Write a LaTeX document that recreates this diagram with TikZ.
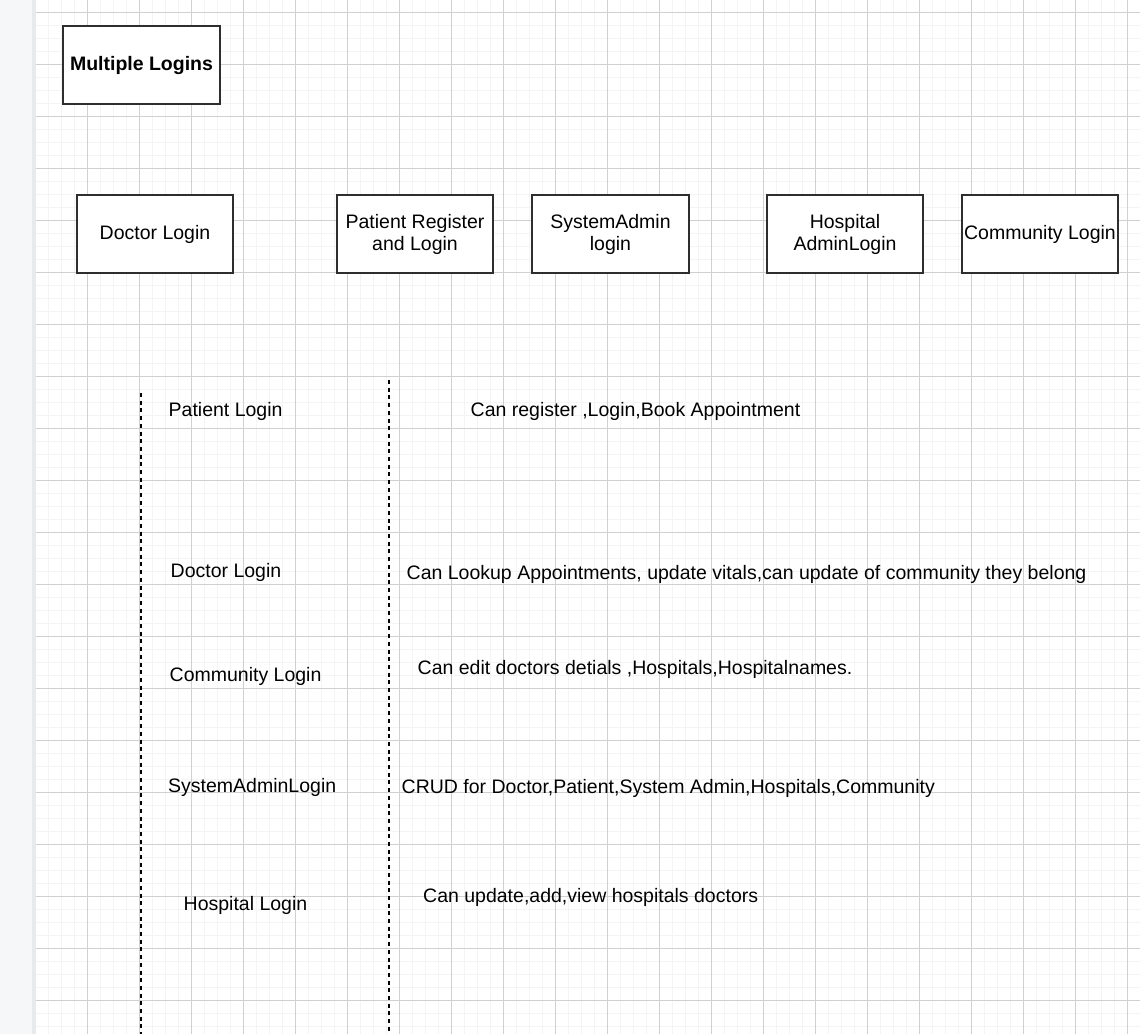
\documentclass[tikz,border=0pt]{standalone}
\usepackage{fontspec}
\setmainfont{Liberation Sans}
\usetikzlibrary{positioning}
\definecolor{gridminor}{HTML}{F4F4F4}
\definecolor{gridmajor}{HTML}{D0D0D0}
\definecolor{strip}{HTML}{F6F7F9}
\definecolor{stripedge}{HTML}{E9EAEC}
\definecolor{boxline}{HTML}{2E2E2E}

\begin{document}
\begin{tikzpicture}[x=1pt, y=-1pt,
    box/.style={draw=boxline, line width=1.4pt, fill=white, minimum width=156pt,
        minimum height=78pt, align=center, inner sep=0pt,
        font=\fontsize{19.5}{22}\selectfont},
    rolelabel/.style={anchor=base west, inner sep=0pt, font=\fontsize{19.5}{22}\selectfont},
    divider/.style={line width=2pt, dash pattern=on 4pt off 3.7pt}]
    \useasboundingbox (0,0) rectangle (1140,1034);

    % page and grid
    \fill[white] (0,0) rectangle (1140,1034);
    \fill[strip] (0,0) rectangle (33,1034);
    \fill[stripedge] (32,0) rectangle (35.5,1034);
    \foreach \k in {1,...,85}
        \draw[gridminor, line width=1.5pt] ({35.3+13*\k},0) -- ({35.3+13*\k},1034);
    \foreach \k in {0,...,79}
        \draw[gridminor, line width=1.5pt] (36,{-0.3+13*\k}) -- (1140,{-0.3+13*\k});
    \foreach \k in {1,...,21}
        \draw[gridmajor, line width=1pt] ({35.3+52*\k},0) -- ({35.3+52*\k},1034);
    \foreach \k in {0,...,19}
        \draw[gridmajor, line width=1pt] (36,{12.7+52*\k}) -- (1140,{12.7+52*\k});

    \node[box, minimum width=157pt, font=\fontsize{19.5}{22}\selectfont\bfseries] (title) at (141.5,65) {Multiple Logins};

    \node[box] (doctor) at (155,234) {Doctor Login};
    \node[box] (patient) at (415,234) {Patient Register\\and Login};
    \node[box, minimum width=157pt] (sysadmin) at (610.5,234) {SystemAdmin\\login};
    \node[box] (hospital) at (845,234) {Hospital\\AdminLogin};
    \node[box] (community) at (1040,234) {Community Login};

    % roles and what they can do
    \coordinate (ltop) at (141.4,393);
    \coordinate (lbot) at (141.4,1034);
    \coordinate (rtop) at (388.6,380);
    \coordinate (rbot) at (388.6,1034);
    \draw[divider] (ltop) -- (lbot);
    \draw[divider] (rtop) -- (rbot);

    \node[rolelabel] (plogin) at (168.5,416) {Patient Login};
    \node[rolelabel] (dlogin) at (170.5,577.5) {Doctor Login};
    \node[rolelabel] (clogin) at (169.5,681.7) {Community Login};
    \node[rolelabel] (slogin) at (168,792.3) {SystemAdminLogin};
    \node[rolelabel] (hlogin) at (183.5,910) {Hospital Login};

    \node[rolelabel] (pdesc) at (470.5,416) {Can register ,Login,Book Appointment};
    \node[rolelabel] (ddesc) at (406.5,579) {Can Lookup Appointments, update vitals,can update of community they belong};
    \node[rolelabel] (cdesc) at (417.5,674.5) {Can edit doctors detials ,Hospitals,Hospitalnames.};
    \node[rolelabel] (sdesc) at (401.5,793) {CRUD for Doctor,Patient,System Admin,Hospitals,Community};
    \node[rolelabel] (hdesc) at (423,902.3) {Can update,add,view hospitals doctors};
\end{tikzpicture}
\end{document}
